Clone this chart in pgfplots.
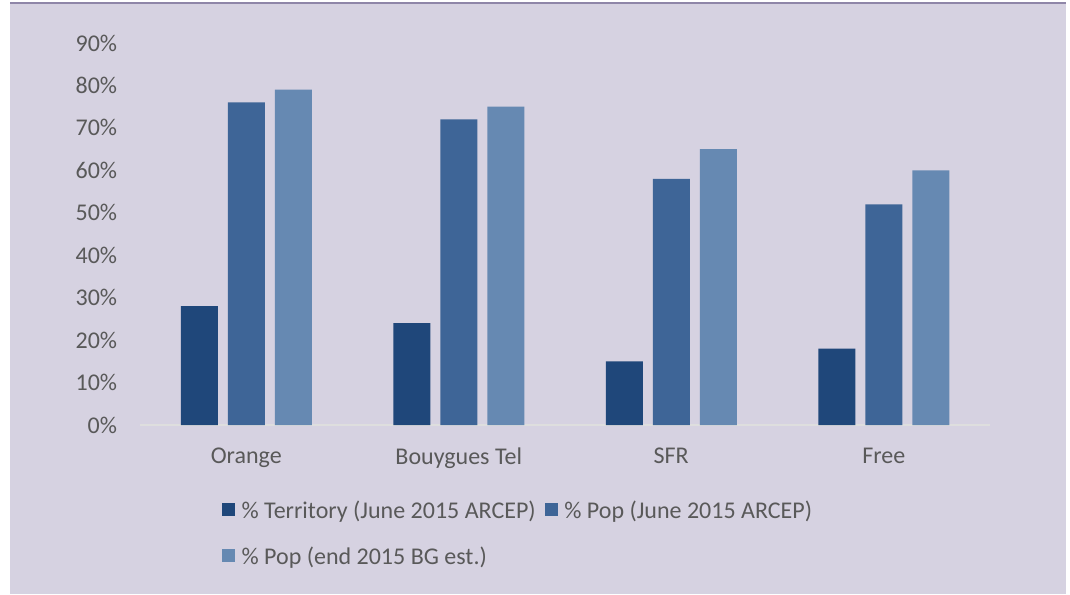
\documentclass[border=0pt]{standalone}
\usepackage{pgfplots}
\pgfplotsset{compat=1.18}
\usepackage{fontspec}
\setmainfont{Carlito}

\definecolor{bgc}{RGB}{214,210,225}
\definecolor{edgec}{RGB}{143,134,168}
\definecolor{txt}{RGB}{89,89,89}
\definecolor{axc}{RGB}{222,222,222}
\definecolor{terr}{RGB}{31,71,122}
\definecolor{popj}{RGB}{62,101,151}
\definecolor{pope}{RGB}{102,137,178}

\begin{document}
\begin{tikzpicture}
% page and panel background (1px = 0.75pt)
\fill[white] (0,0) rectangle (802.5pt,445.5pt);
\fill[bgc] (7.5pt,0) rectangle (799.5pt,443.25pt);
\draw[edgec,line width=0.9pt] (7.5pt,443.25pt) -- (799.5pt,443.25pt);

\begin{axis}[
    at={(105pt,126.75pt)}, anchor=south west,
    scale only axis,
    width=637.5pt, height=286.5pt,
    ybar, bar width=27.75pt,
    xmin=-0.5, xmax=3.5,
    ymin=0, ymax=90,
    ytick={0,10,...,90},
    yticklabel={\pgfmathprintnumber{\tick}\%},
    xtick=data,
    xticklabels={Orange,Bouygues Tel,SFR,Free},
    axis line style={draw=none},
    major tick style={draw=none},
    font=\fontsize{18}{22}\selectfont,
    tick label style={text=txt, font=\fontsize{18}{22}\selectfont},
    /pgf/number format/assume math mode=true,
    yticklabel style={anchor=east, inner sep=0pt, xshift=-17pt},
    xticklabel style={anchor=north, inner sep=0pt, yshift=-12.5pt},
    legend columns=2,
    legend style={at={(0.0965,-0.19)}, anchor=north west, draw=none, fill=none,
        inner sep=0pt, text=txt, font=\fontsize{18}{22}\selectfont,
        /tikz/every even column/.append style={column sep=5pt},
        row sep=16pt},
    legend cell align=left,
    legend image code/.code={\fill[#1] (0pt,-4pt) rectangle (9.4pt,5.4pt); \path (12.5pt,0pt);},
    clip=false,
]
\draw[axc, line width=1pt] (axis cs:-0.5,0) -- (axis cs:3.5,0);
\addplot[fill=terr, draw=none, bar shift=-35.25pt] coordinates {(0,28) (1,24) (2,15) (3,18)};
\addplot[fill=popj, draw=none, bar shift=0pt] coordinates {(0,76) (1,72) (2,58) (3,52)};
\addplot[fill=pope, draw=none, bar shift=35.25pt] coordinates {(0,79) (1,75) (2,65) (3,60)};
\legend{\% Territory (June 2015 ARCEP),\% Pop (June 2015 ARCEP),\% Pop (end 2015 BG est.)}
\end{axis}
\end{tikzpicture}
\end{document}
